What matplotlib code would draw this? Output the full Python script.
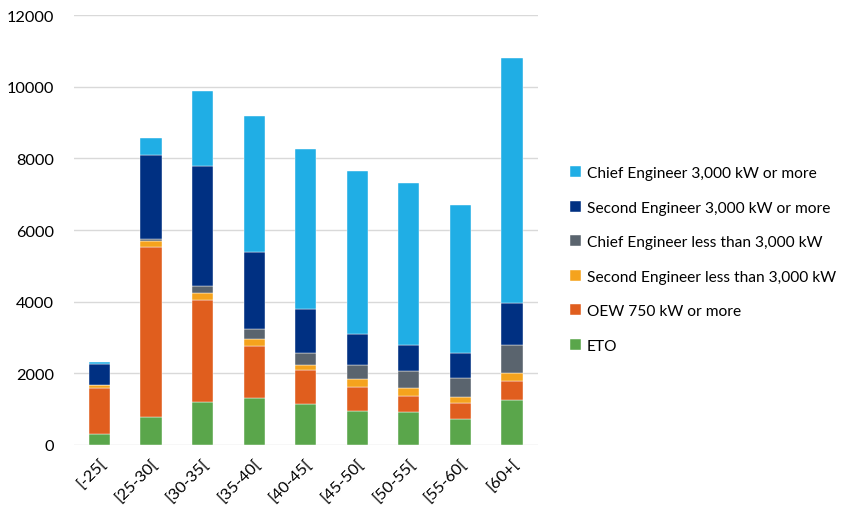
import matplotlib
matplotlib.use("Agg")
import matplotlib.pyplot as plt
import numpy as np

categories = ["[-25[", "[25-30[", "[30-35[", "[35-40[", "[40-45[", "[45-50[", "[50-55[", "[55-60[", "[60+["]

eto = [300, 770, 1200, 1300, 1135, 960, 920, 715, 1255]
oew = [1300, 4750, 2850, 1460, 960, 670, 455, 465, 530]
second_lt = [70, 170, 200, 205, 130, 220, 215, 170, 230]
chief_lt = [10, 60, 190, 260, 335, 370, 465, 510, 780]
second_ge = [590, 2360, 3350, 2160, 1235, 875, 745, 700, 1170]
chief_ge = [50, 470, 2080, 3810, 4480, 4560, 4520, 4130, 6840]

series = [
    ("ETO", eto, "#5AA64B"),
    ("OEW 750 kW or more", oew, "#E05E1E"),
    ("Second Engineer less than 3,000 kW", second_lt, "#F5A31D"),
    ("Chief Engineer less than 3,000 kW", chief_lt, "#5A646E"),
    ("Second Engineer 3,000 kW or more", second_ge, "#003082"),
    ("Chief Engineer 3,000 kW or more", chief_ge, "#20AEE5"),
]

plt.rcParams['font.family'] = ['Lato', 'DejaVu Sans']

fig = plt.figure(figsize=(8.47, 5.06), dpi=100)
ax = fig.add_axes([0.087, 0.1186, 0.548, 0.8494])

x = np.arange(len(categories))
bottom = np.zeros(len(categories))
handles = []
for name, vals, col in series:
    b = ax.bar(x, vals, width=0.41, bottom=bottom, color=col, label=name,
               edgecolor='white', linewidth=0.3, zorder=3)
    bottom += np.array(vals)
    handles.append(b)

ax.set_ylim(0, 12000)
ax.set_xlim(-0.5, len(categories) - 0.5)
ax.set_yticks(np.arange(0, 12001, 2000))
ax.yaxis.grid(True, color='#D9D9D9', linewidth=1.0, zorder=0)
ax.set_axisbelow(True)
for s in ax.spines.values():
    s.set_visible(False)
ax.tick_params(axis='both', length=0, labelsize=11.8, colors='#000000')
ax.tick_params(axis='y', pad=14)
ax.set_xticks(x)
ax.set_xticklabels(categories, rotation=45, ha='right', rotation_mode='anchor')
ax.tick_params(axis='x', pad=8)

leg = fig.legend(handles[::-1], [s[0] for s in series][::-1],
                 loc='center left', bbox_to_anchor=(0.656, 0.485),
                 frameon=False, fontsize=11.2, handlelength=0.72, handleheight=0.72,
                 handletextpad=0.4, labelspacing=1.32)

fig.savefig("out.png", dpi=100)
